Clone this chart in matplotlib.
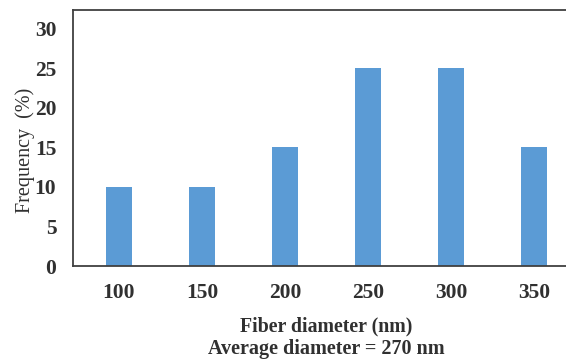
import numpy as np
import matplotlib.pyplot as plt

# fiber diameter histogram data
diameters = ['100', '150', '200', '250', '300', '350']
frequency = [10, 10, 15, 25, 25, 15]

plt.rcParams['font.family'] = 'Liberation Serif'

fig = plt.figure(figsize=(5.66, 3.63), dpi=100)
# axes runs past the right edge of the figure, like the cropped original
ax = fig.add_axes([73/566, 1-266/363, 507/566, 256/363])

x = np.arange(len(diameters))
ax.bar(x, frequency, width=0.313, color='#5B9BD5', zorder=2)

ax.set_xlim(-0.554, len(diameters) - 1 + 0.554)
ax.set_ylim(0, 32.4)
ax.set_xticks(x)
ax.set_xticklabels(diameters, fontsize=15.5, fontweight='bold', color='#303030')
ax.set_yticks(np.arange(0, 31, 5))
ax.tick_params(axis='y', labelsize=15.5, length=0, pad=12, labelcolor='#303030')
ax.tick_params(axis='x', length=0, pad=12)
for lab in ax.get_yticklabels():
    lab.set_fontweight('bold')

for side in ['left', 'top', 'bottom']:
    ax.spines[side].set_color('#404040')
    ax.spines[side].set_linewidth(1.3)
ax.spines['right'].set_visible(False)

ax.set_ylabel('Frequency  (%)', fontsize=14.5, color='#303030')
ax.yaxis.set_label_coords(-0.075, 0.45)

fig.text(326/566, 1-326/363, 'Fiber diameter (nm)', ha='center', va='center',
         fontsize=14.3, fontweight='bold', color='#303030')
fig.text(326/566, 1-349/363, 'Average diameter = 270 nm', ha='center', va='center',
         fontsize=14.5, fontweight='bold', color='#303030')

fig.savefig('out.png', dpi=100)
